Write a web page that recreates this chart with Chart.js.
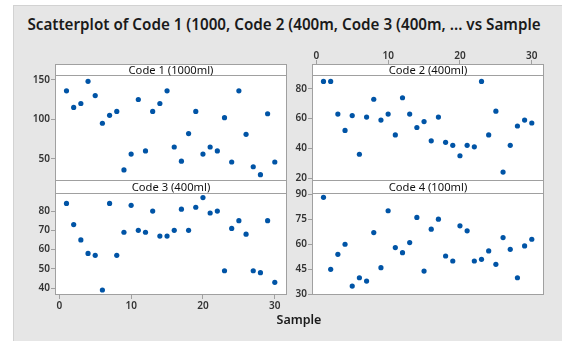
<!DOCTYPE html>
<html>
<head>
<meta charset="utf-8">
<script src="https://cdn.jsdelivr.net/npm/chart.js@4/dist/chart.umd.min.js"></script>
<style>
  body { margin: 0; width: 562px; height: 341px; background: #fff; position: relative; overflow: hidden; font-family: "Noto Sans", sans-serif; }
  .box { position: absolute; left: 13px; top: 5px; width: 560px; height: 350px; background: #e6e6e6; border: 1px solid #d2d2d2; }
  canvas { position: absolute; }
  .strip { position: absolute; box-sizing: border-box; background: #fff; border: 1px solid #a0a0a0; text-align: center; font-size: 11.2px; color: #111; line-height: 10px; }
  .title { position: absolute; left: 13px; width: 542px; top: 14px; text-align: center; font-weight: 600; font-size: 15.2px; color: #1a1a1a; }
  .xlab { position: absolute; left: 55px; width: 488px; top: 311px; text-align: center; font-weight: 600; font-size: 12.5px; color: #1a1a1a; }
</style>
</head>
<body>
<div class="box"></div>
<canvas id="c1" width="274" height="106" style="left:13px;top:75px"></canvas>
<canvas id="c2" width="257" height="141" style="left:287px;top:40px"></canvas>
<canvas id="c3" width="274" height="132" style="left:13px;top:193px"></canvas>
<canvas id="c4" width="257" height="122" style="left:287px;top:183px"></canvas>
<div class="strip" style="left:55px;top:64px;width:232px;height:12px">Code 1 (1000ml)</div>
<div class="strip" style="left:312px;top:64px;width:232px;height:12px">Code 2 (400ml)</div>
<div class="strip" style="left:55px;top:180px;width:232px;height:14px;line-height:12px">Code 3 (400ml)</div>
<div class="strip" style="left:312px;top:180px;width:232px;height:14px;line-height:12px">Code 4 (100ml)</div>
<div class="title">Scatterplot of Code 1 (1000, Code 2 (400m, Code 3 (400m, ... vs Sample</div>
<div class="xlab">Sample</div>
<script>
// nummer van het monster
var sample = [1, 2, 3, 4, 5, 6, 7, 8, 9, 10, 11, 12, 13, 14, 15, 16, 17, 18, 19, 20, 21, 22, 23, 24, 25, 26, 27, 28, 29, 30];
// meetwaarden per code
var code1 = [136, 115, 120, 148, 130, 95, 105, 110, 36, 56, 125, 60, 110, 120, 136, 65, 47, 82, 110, 56, 65, 60, 102, 46, 136, 81, 40, 30, 107, 46];
var code2 = [85, 85, 63, 52, 62, 36, 61, 73, 59, 63, 49, 74, 63, 54, 58, 45, 61, 44, 42, 35, 42, 41, 85, 49, 65, 24, 42, 55, 59, 57];
var code3 = [84, 73, 65, 58, 57, 39, 84, 57, 69, 83, 70, 69, 80, 67, 67, 70, 81, 70, 82, 87, 79, 80, 49, 71, 75, 68, 49, 48, 75, 43];
var code4 = [88, 45, 54, 60, 35, 40, 38, 67, 46, 80, 58, 55, 61, 76, 44, 69, 75, 53, 50, 71, 68, 50, 51, 56, 48, 64, 57, 40, 59, 63];
// tick labels
var xTicks = [0, 10, 20, 30];
var code1Ticks = [50, 100, 150];
var code2Ticks = [20, 40, 60, 80];
var code3Ticks = [40, 50, 60, 70, 80];
var code4Ticks = [30, 45, 60, 75, 90];

var tickFont = { family: "Noto Sans", size: 10, weight: "600" };

// wit vlak en kader rond het plotgebied
var framePlugin = {
  id: "frame",
  beforeDraw: function(chart) {
    var a = chart.chartArea, ctx = chart.ctx;
    ctx.save();
    ctx.fillStyle = "#fff";
    ctx.fillRect(a.left, a.top, a.right - a.left, a.bottom - a.top);
    ctx.restore();
  },
  afterDraw: function(chart) {
    var a = chart.chartArea, ctx = chart.ctx;
    ctx.save();
    ctx.strokeStyle = "#a0a0a0";
    ctx.lineWidth = 1;
    ctx.strokeRect(a.left + 0.5, a.top + 0.5, a.right - a.left - 1, a.bottom - a.top - 1);
    ctx.restore();
  }
};

function points(values) {
  var out = [];
  for (var i = 0; i < sample.length; i++) out.push({ x: sample[i], y: values[i] });
  return out;
}

function fixTicks(list) {
  return function(scale) {
    scale.ticks = list.map(function(v) { return { value: v }; });
  };
}

function makeChart(id, values, yMin, yMax, yTicks, yWidth, xMode, pad) {
  var xScale = {
    type: "linear", min: -0.6, max: 31.7, display: false
  };
  if (xMode) {
    xScale.display = true;
    xScale.position = xMode;
    xScale.afterBuildTicks = fixTicks(xTicks);
    xScale.afterFit = function(scale) {
      scale.height = xMode == "top" ? 35 : 30;
      scale.paddingLeft = 0; scale.paddingRight = 0;
    };
    xScale.border = { display: false };
    xScale.grid = { drawOnChartArea: false, color: "#a0a0a0", tickLength: xMode == "top" ? 15 : 4 };
    xScale.ticks = { font: tickFont, color: "#333", padding: xMode == "top" ? -2 : 1, maxRotation: 0 };
  }
  return new Chart(document.getElementById(id), {
    type: "scatter",
    data: {
      datasets: [{
        data: points(values),
        backgroundColor: "#0054a6",
        borderWidth: 0,
        pointRadius: 2.6,
        pointHoverRadius: 2.6
      }]
    },
    options: {
      responsive: false,
      animation: false,
      events: [],
      layout: { padding: { top: pad, bottom: pad, left: 0, right: 0 }, autoPadding: false },
      plugins: { legend: { display: false }, tooltip: { enabled: false } },
      scales: {
        x: xScale,
        y: {
          type: "linear", min: yMin, max: yMax,
          afterBuildTicks: fixTicks(yTicks),
          afterFit: function(scale) {
            scale.width = yWidth;
            scale.paddingTop = 0; scale.paddingBottom = 0;
          },
          border: { display: false },
          grid: { drawOnChartArea: false, color: "#a0a0a0", tickLength: 4 },
          ticks: { font: tickFont, color: "#333", padding: 1 }
        }
      }
    },
    plugins: [framePlugin]
  });
}

makeChart("c1", code1, 22, 156, code1Ticks, 42, null, 0);
makeChart("c2", code2, 18, 89.3, code2Ticks, 25, "top", 0);
makeChart("c3", code3, 36.4, 89.4, code3Ticks, 42, "bottom", 0);
makeChart("c4", code4, 29.7, 90.6, code4Ticks, 25, null, 10);
</script>
</body>
</html>
